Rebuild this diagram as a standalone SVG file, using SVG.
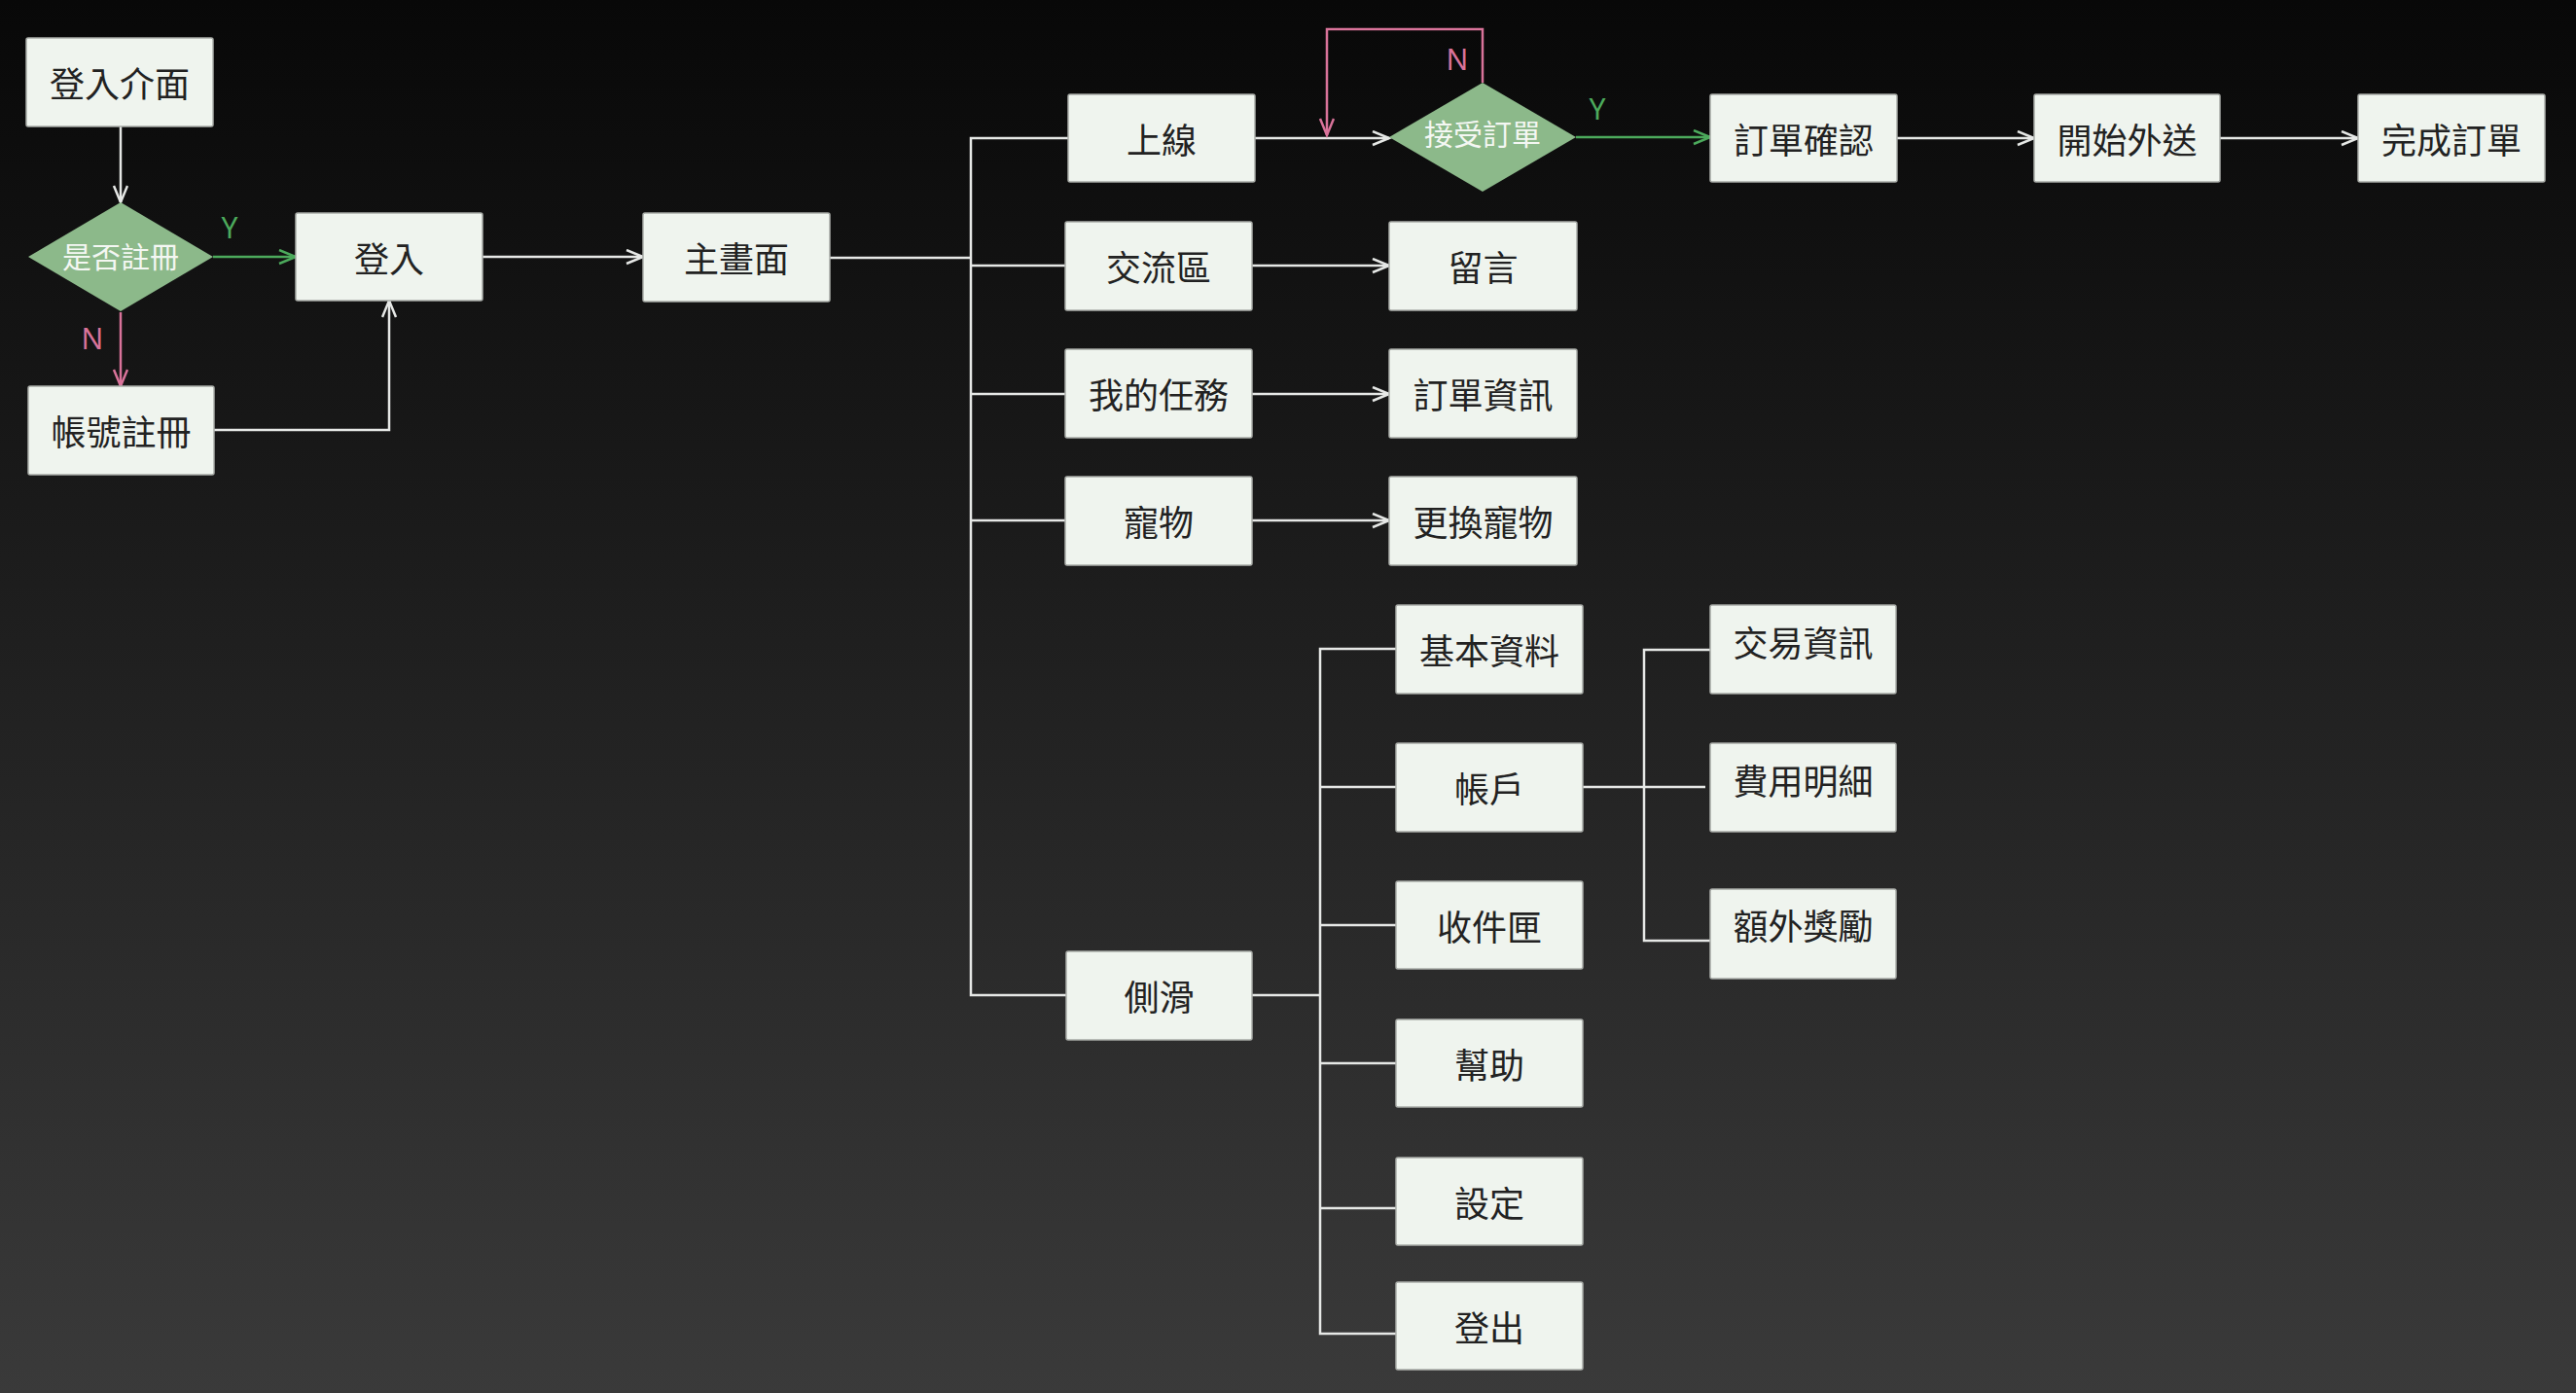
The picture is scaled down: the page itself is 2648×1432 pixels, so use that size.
<svg xmlns="http://www.w3.org/2000/svg" width="2648" height="1432" viewBox="0 0 2648 1432">
<defs>
<linearGradient id="bg" x1="0" y1="0" x2="0" y2="1">
<stop offset="0" stop-color="#080808"/>
<stop offset="1" stop-color="#3a3a3a"/>
</linearGradient>
<marker id="aw" markerUnits="userSpaceOnUse" markerWidth="22" markerHeight="18" refX="18" refY="8" orient="auto" viewBox="0 0 22 18">
<path d="M1,1 L18,8 L1,15" fill="none" stroke="#e6e8e6" stroke-width="2.5"/>
</marker>
<marker id="ag" markerUnits="userSpaceOnUse" markerWidth="22" markerHeight="18" refX="18" refY="8" orient="auto" viewBox="0 0 22 18">
<path d="M1,1 L18,8 L1,15" fill="none" stroke="#4caa5c" stroke-width="2.5"/>
</marker>
<marker id="ap" markerUnits="userSpaceOnUse" markerWidth="22" markerHeight="18" refX="18" refY="8" orient="auto" viewBox="0 0 22 18">
<path d="M1,1 L18,8 L1,15" fill="none" stroke="#d9739a" stroke-width="2.5"/>
</marker>
</defs>
<style>
.box{fill:#eff4ee;stroke:#a9aca8;stroke-width:1.5}
.dia{fill:#8cb98a}
.t{font-family:"Noto Sans CJK TC","Noto Sans CJK SC",sans-serif;font-size:36px;fill:#222222;text-anchor:middle;dominant-baseline:central}
.dt{font-family:"Noto Sans CJK TC","Noto Sans CJK SC",sans-serif;font-size:30px;fill:#f4f7f3;text-anchor:middle;dominant-baseline:central}
.w{fill:none;stroke:#e6e8e6;stroke-width:2.5}
.g{fill:none;stroke:#4caa5c;stroke-width:2.5}
.p{fill:none;stroke:#d9739a;stroke-width:2.5}
.lg{font-family:"Noto Sans",sans-serif;font-size:30px;fill:#4caa5c;text-anchor:middle;dominant-baseline:central}
.lp{font-family:"Noto Sans",sans-serif;font-size:30px;fill:#d9739a;text-anchor:middle;dominant-baseline:central}
</style>
<rect x="0" y="0" width="2648" height="1432" fill="url(#bg)"/>

<g id="connectors">
<path class="w" d="M124,130 V208" marker-end="url(#aw)"/>
<path class="g" d="M219,264 H304" marker-end="url(#ag)"/>
<path class="p" d="M124,321 V397" marker-end="url(#ap)"/>
<path class="w" d="M220,442 H400 V309" marker-end="url(#aw)"/>
<path class="w" d="M496,264 H661" marker-end="url(#aw)"/>
<path class="w" d="M853,265 H998"/>
<path class="w" d="M1098,142 H998 V1023 H1096"/>
<path class="w" d="M998,273 H1095"/>
<path class="w" d="M998,405 H1095"/>
<path class="w" d="M998,535 H1095"/>
<path class="w" d="M1290,142 H1428" marker-end="url(#aw)"/>
<path class="p" d="M1524,85 V30 H1364 V139" marker-end="url(#ap)"/>
<path class="g" d="M1620,141 H1758" marker-end="url(#ag)"/>
<path class="w" d="M1950,142 H2091" marker-end="url(#aw)"/>
<path class="w" d="M2282,142 H2424" marker-end="url(#aw)"/>
<path class="w" d="M1287,273 H1428" marker-end="url(#aw)"/>
<path class="w" d="M1287,405 H1428" marker-end="url(#aw)"/>
<path class="w" d="M1287,535 H1428" marker-end="url(#aw)"/>
<path class="w" d="M1287,1023 H1357"/>
<path class="w" d="M1435,667 H1357 V1371 H1435"/>
<path class="w" d="M1357,809 H1435"/>
<path class="w" d="M1357,951 H1435"/>
<path class="w" d="M1357,1093 H1435"/>
<path class="w" d="M1357,1242 H1435"/>
<path class="w" d="M1627,809 H1753"/>
<path class="w" d="M1758,668 H1690 V967 H1758"/>
<text class="lg" x="236" y="233">Y</text>
<text class="lp" x="95" y="347">N</text>
<text class="lp" x="1498" y="60">N</text>
<text class="lg" x="1642" y="111">Y</text>
</g>

<g id="n-login-ui"><rect class="box" x="27" y="39" width="192" height="91" rx="2"/><text class="t" x="123" y="84">登入介面</text></g>
<g id="n-registered"><polygon class="dia" points="124,208 219,264 124,320 29,264"/><text class="dt" x="124" y="262">是否註冊</text></g>
<g id="n-login"><rect class="box" x="304" y="219" width="192" height="90" rx="2"/><text class="t" x="400" y="264">登入</text></g>
<g id="n-main"><rect class="box" x="661" y="219" width="192" height="91" rx="2"/><text class="t" x="757" y="264">主畫面</text></g>
<g id="n-register"><rect class="box" x="29" y="397" width="191" height="91" rx="2"/><text class="t" x="124.5" y="442">帳號註冊</text></g>
<g id="n-online"><rect class="box" x="1098" y="97" width="192" height="90" rx="2"/><text class="t" x="1194" y="142">上線</text></g>
<g id="n-accept"><polygon class="dia" points="1524,85 1620,141 1524,197 1428,141"/><text class="dt" x="1524" y="136">接受訂單</text></g>
<g id="n-confirm"><rect class="box" x="1758" y="97" width="192" height="90" rx="2"/><text class="t" x="1854" y="142">訂單確認</text></g>
<g id="n-deliver"><rect class="box" x="2091" y="97" width="191" height="90" rx="2"/><text class="t" x="2186.5" y="142">開始外送</text></g>
<g id="n-complete"><rect class="box" x="2424" y="97" width="192" height="90" rx="2"/><text class="t" x="2520" y="142">完成訂單</text></g>
<g id="n-forum"><rect class="box" x="1095" y="228" width="192" height="91" rx="2"/><text class="t" x="1191" y="273">交流區</text></g>
<g id="n-message"><rect class="box" x="1428" y="228" width="193" height="91" rx="2"/><text class="t" x="1524.5" y="273">留言</text></g>
<g id="n-tasks"><rect class="box" x="1095" y="359" width="192" height="91" rx="2"/><text class="t" x="1191" y="404">我的任務</text></g>
<g id="n-orderinfo"><rect class="box" x="1428" y="359" width="193" height="91" rx="2"/><text class="t" x="1524.5" y="404">訂單資訊</text></g>
<g id="n-pet"><rect class="box" x="1095" y="490" width="192" height="91" rx="2"/><text class="t" x="1191" y="535">寵物</text></g>
<g id="n-changepet"><rect class="box" x="1428" y="490" width="193" height="91" rx="2"/><text class="t" x="1524.5" y="535">更換寵物</text></g>
<g id="n-side"><rect class="box" x="1096" y="978" width="191" height="91" rx="2"/><text class="t" x="1191.5" y="1023">側滑</text></g>
<g id="n-profile"><rect class="box" x="1435" y="622" width="192" height="91" rx="2"/><text class="t" x="1531" y="667">基本資料</text></g>
<g id="n-account"><rect class="box" x="1435" y="764" width="192" height="91" rx="2"/><text class="t" x="1531" y="809">帳戶</text></g>
<g id="n-inbox"><rect class="box" x="1435" y="906" width="192" height="90" rx="2"/><text class="t" x="1531" y="951">收件匣</text></g>
<g id="n-help"><rect class="box" x="1435" y="1048" width="192" height="90" rx="2"/><text class="t" x="1531" y="1093">幫助</text></g>
<g id="n-settings"><rect class="box" x="1435" y="1190" width="192" height="90" rx="2"/><text class="t" x="1531" y="1235">設定</text></g>
<g id="n-logout"><rect class="box" x="1435" y="1318" width="192" height="90" rx="2"/><text class="t" x="1531" y="1363">登出</text></g>
<g id="n-trade"><rect class="box" x="1758" y="622" width="191" height="91" rx="2"/><text class="t" x="1853.5" y="659">交易資訊</text></g>
<g id="n-fee"><rect class="box" x="1758" y="764" width="191" height="91" rx="2"/><text class="t" x="1853.5" y="801">費用明細</text></g>
<g id="n-bonus"><rect class="box" x="1758" y="914" width="191" height="92" rx="2"/><text class="t" x="1853.5" y="950">額外獎勵</text></g>
</svg>
